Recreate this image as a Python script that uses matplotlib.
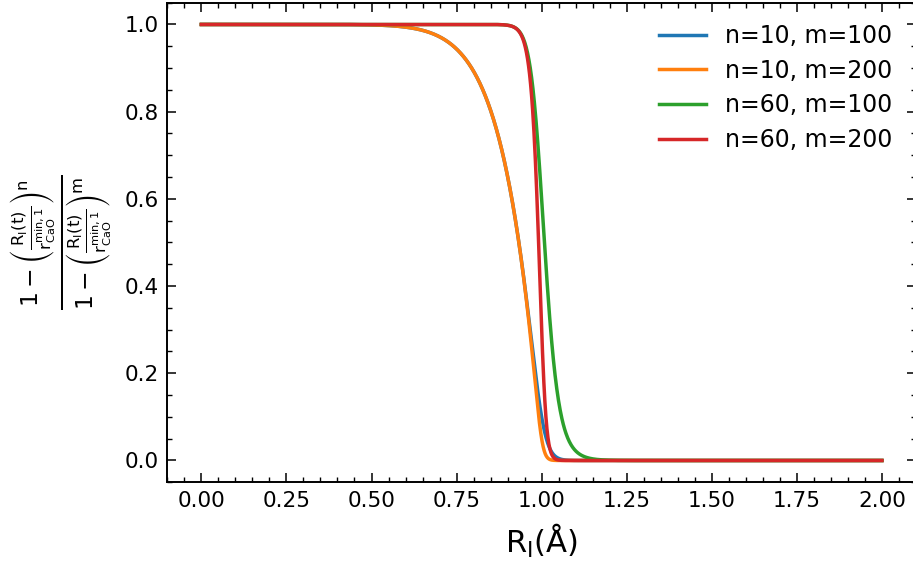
import numpy as np
import matplotlib.pyplot as plt
from matplotlib.ticker import AutoMinorLocator

# switching function parameters
n_vals = [10, 10, 60, 60]
m_vals = [100, 200, 100, 200]
r_min = 1.0  # r_CaO^{min,1} in Angstrom
colors = ['#1f77b4', '#ff7f0e', '#2ca02c', '#d62728']

plt.rcParams['mathtext.default'] = 'regular'

R = np.linspace(0, 2, 2000)

fig = plt.figure(figsize=(9.13, 5.67), dpi=100)
ax = fig.add_axes([0.1833, 0.1494, 0.8199, 0.8459])

for n, m, c in zip(n_vals, m_vals, colors):
    x = R / r_min
    with np.errstate(invalid='ignore', divide='ignore'):
        s = (1 - x**n) / (1 - x**m)
    s = np.where(np.isclose(x, 1.0), n / m, s)
    ax.plot(R, s, color=c, lw=2.5, label=f'n={n}, m={m}')

ax.set_xticks(np.arange(0, 2.01, 0.25))
ax.set_yticks(np.arange(0, 1.01, 0.2))
ax.xaxis.set_minor_locator(AutoMinorLocator(5))
ax.yaxis.set_minor_locator(AutoMinorLocator(4))
ax.tick_params(which='both', direction='in', top=True, right=True, labelsize=15.5, pad=6)
ax.tick_params(which='major', length=6.5, width=1.1)
ax.tick_params(which='minor', length=3.5, width=1)
for sp in ax.spines.values():
    sp.set_linewidth(1.4)

ax.set_xlabel(r'$R_{I}(\AA)$', fontsize=22, labelpad=8)
ax.set_ylabel(r'$\frac{1-\left(\frac{R_{I}(t)}{r_{CaO}^{min,1}}\right)^{n}}'
              r'{1-\left(\frac{R_{I}(t)}{r_{CaO}^{min,1}}\right)^{m}}$', fontsize=24, labelpad=8)

ax.legend(frameon=False, fontsize=17, loc='upper right', handlelength=2.0,
          labelspacing=0.45, bbox_to_anchor=(0.997, 1.0))

fig.savefig('out.png', dpi=100)
